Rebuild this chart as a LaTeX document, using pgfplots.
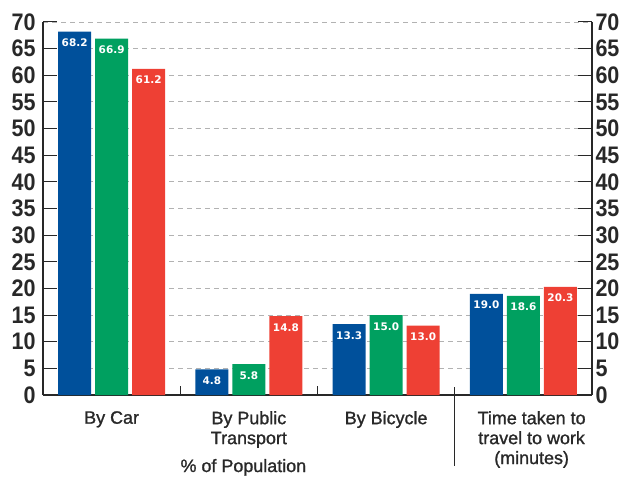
\documentclass[border=0pt]{standalone}
\usepackage{pgfplots}
\pgfplotsset{compat=1.18}
\usepackage{fontspec}
\setmainfont[FakeBold=1.2]{Liberation Sans}
\newfontfamily\tickfont[FakeStretch=0.9]{Liberation Sans}
\newfontfamily\barfont{DejaVu Sans}
\definecolor{cblue}{RGB}{0,80,155}
\definecolor{cgreen}{RGB}{0,160,96}
\definecolor{cred}{RGB}{238,64,52}
\definecolor{axcol}{RGB}{40,40,40}
\begin{document}
\begin{tikzpicture}
\useasboundingbox (0,0) rectangle (627bp,477bp);
\begin{axis}[
  at={(43bp,82bp)}, anchor=south west,
  scale only axis, width=549bp, height=373bp,
  xmin=-0.5, xmax=3.5, ymin=0, ymax=70,
  axis x line=bottom, axis y line=left,
  axis line style={-, draw=axcol, line width=1.2bp},
  ybar=4bp, bar width=33bp,
  xtick={0,1,2,3.06},
  xticklabels={By Car,{By Public\\Transport},By Bicycle,{Time taken to\\travel to work\\(minutes)}},
  xtick style={draw=none},
  ytick={0,5,...,70},
  ytick style={draw=axcol, line width=1bp},
  major tick length=14bp,
  tick align=inside,
  ymajorgrids,
  grid style={draw=black!30, line width=0.9bp, dash pattern=on 5bp off 4bp},
  /pgf/number format/assume math mode=true,
  yticklabel style={font=\fontsize{24}{24}\selectfont\tickfont\bfseries, text=axcol, xshift=-4bp},
  xticklabel style={font=\fontsize{18}{20}\selectfont, text=axcol, align=center, anchor=north, inner sep=0pt, yshift=-16bp},
  nodes near coords={\pgfmathprintnumber[fixed,fixed zerofill,precision=1,assume math mode=true]{\pgfplotspointmeta}},
  every node near coord/.append style={anchor=north, yshift=-7bp, inner sep=0pt, text=white, font=\fontsize{10.5}{10.5}\selectfont\barfont\bfseries},
  clip=false,
]
\addplot[fill=cblue, draw=none] coordinates {(0,68.2) (1,4.8) (2,13.3) (3,19.0)};
\addplot[fill=cgreen, draw=none] coordinates {(0,66.9) (1,5.8) (2,15.0) (3,18.6)};
\addplot[fill=cred, draw=none] coordinates {(0,61.2) (1,14.8) (2,13.0) (3,20.3)};
\draw[axcol, line width=1bp] (axis cs:0.5,0) -- ([yshift=9bp]axis cs:0.5,0);
\draw[axcol, line width=1bp] (axis cs:1.5,0) -- ([yshift=9bp]axis cs:1.5,0);
\draw[axcol, line width=1bp] (axis cs:2.5,1.5) -- ([yshift=-71bp]axis cs:2.5,0);
\node[anchor=base, inner sep=0pt, text=axcol, font=\fontsize{18}{20}\selectfont] at ([yshift=-77bp]axis cs:0.96,0) {\% of Population};
\end{axis}
\begin{axis}[
  at={(43bp,82bp)}, anchor=south west,
  scale only axis, width=549bp, height=373bp,
  xmin=-0.5, xmax=3.5, ymin=0, ymax=70,
  axis x line=none, axis y line=right,
  axis line style={-, draw=axcol, line width=1.2bp},
  ytick={0,5,...,70},
  ytick style={draw=axcol, line width=1bp},
  major tick length=14bp,
  tick align=inside,
  /pgf/number format/assume math mode=true,
  yticklabel style={font=\fontsize{24}{24}\selectfont\tickfont\bfseries, text=axcol},
]
\addplot[draw=none] coordinates {(0,0)};
\end{axis}
\end{tikzpicture}
\end{document}
